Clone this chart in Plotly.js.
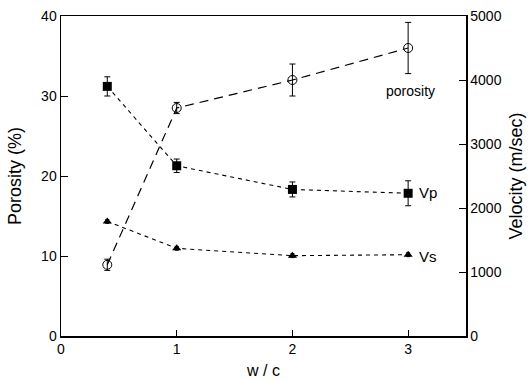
<!DOCTYPE html>
<html>
<head>
<meta charset="utf-8">
<script src="https://cdn.plot.ly/plotly-3.0.1.min.js"></script>
<style>html,body{margin:0;padding:0;background:#fff;}#chart{width:528px;height:380px;}</style>
</head>
<body>
<div id="chart"></div>
<script>
// Data
const wc = [0.4, 1, 2, 3];
const porosity = [8.9, 28.5, 32.0, 36.0];
const porosityErr = [0.7, 0.7, 2.0, 3.2];
const vp = [3900, 2660, 2290, 2230];
const vpErr = [150, 105, 117, 195];
const vs = [1790, 1370, 1255, 1270];
const vsErr = [30, 30, 30, 30];
const xTicks = [0, 1, 2, 3];
const yTicksLeft = [0, 10, 20, 30, 40];
const yTicksRight = [0, 1000, 2000, 3000, 4000, 5000];
const labels = ["porosity", "Vp", "Vs"];

const FONT = "Liberation Sans, Arial, Helvetica, sans-serif";

const traces = [
  {
    x: wc, y: porosity, yaxis: 'y', type: 'scatter', mode: 'lines+markers',
    line: {color: '#000', width: 1.2, dash: '9px,6px'},
    marker: {symbol: 'circle-open', size: 9, color: '#000', line: {width: 1, color: '#000'}},
    error_y: {type: 'data', array: porosityErr, visible: true, color: '#000', thickness: 1, width: 3}
  },
  {
    x: wc, y: vp, yaxis: 'y2', type: 'scatter', mode: 'lines+markers',
    line: {color: '#000', width: 1.1, dash: '4px,4px'},
    marker: {symbol: 'square', size: 9, color: '#000'},
    error_y: {type: 'data', array: vpErr, visible: true, color: '#000', thickness: 1, width: 3}
  },
  {
    x: wc, y: vs, yaxis: 'y2', type: 'scatter', mode: 'lines+markers',
    line: {color: '#000', width: 1.1, dash: '4px,4px'},
    marker: {symbol: 'triangle-up', size: 8, color: '#000'},
    error_y: {type: 'data', array: vsErr, visible: true, color: '#000', thickness: 1, width: 2}
  }
];

const layout = {
  width: 528, height: 380,
  margin: {l: 61, r: 62, t: 16, b: 44},
  paper_bgcolor: '#fff', plot_bgcolor: '#fff',
  showlegend: false,
  font: {family: FONT, size: 14, color: '#000'},
  xaxis: {
    range: [0, 3.5], tickvals: xTicks, ticktext: xTicks.map(String),
    ticks: 'inside', ticklen: 6, tickwidth: 1, tickcolor: '#000',
    showline: true, linecolor: '#000', linewidth: 1.5, mirror: true,
    showgrid: false, zeroline: false,
    tickfont: {family: FONT, size: 14},
    title: {text: 'w / c', font: {family: FONT, size: 16}, standoff: 8}
  },
  yaxis: {
    range: [0, 40], tickvals: yTicksLeft, ticktext: yTicksLeft.map(String),
    ticks: 'inside', ticklen: 7, tickwidth: 1, tickcolor: '#000',
    showline: true, linecolor: '#000', linewidth: 1.5,
    showgrid: false, zeroline: false,
    tickfont: {family: FONT, size: 14},
    title: {text: 'Porosity (%)', font: {family: FONT, size: 18}, standoff: 15}
  },
  yaxis2: {
    range: [0, 5000], overlaying: 'y', side: 'right',
    tickvals: yTicksRight, ticktext: yTicksRight.map(String),
    ticks: 'inside', ticklen: 7, tickwidth: 1, tickcolor: '#000',
    showline: true, linecolor: '#000', linewidth: 1.5,
    showgrid: false, zeroline: false,
    tickfont: {family: FONT, size: 14},
    title: {text: 'Velocity (m/sec)', font: {family: FONT, size: 18}, standoff: 8}
  },
  annotations: [
    {x: wc[3], y: porosity[3], yref: 'y', xref: 'x', text: labels[0], showarrow: false,
     xanchor: 'center', yanchor: 'middle', xshift: 2, yshift: -43, font: {family: FONT, size: 14}},
    {x: wc[3], y: vp[3], yref: 'y2', xref: 'x', text: labels[1], showarrow: false,
     xanchor: 'left', yanchor: 'middle', xshift: 9, yshift: 1, font: {family: FONT, size: 15}},
    {x: wc[3], y: vs[3], yref: 'y2', xref: 'x', text: labels[2], showarrow: false,
     xanchor: 'left', yanchor: 'middle', xshift: 9, yshift: -2, font: {family: FONT, size: 15}}
  ]
};

Plotly.newPlot('chart', traces, layout, {staticPlot: true, displayModeBar: false});
</script>
</body>
</html>
